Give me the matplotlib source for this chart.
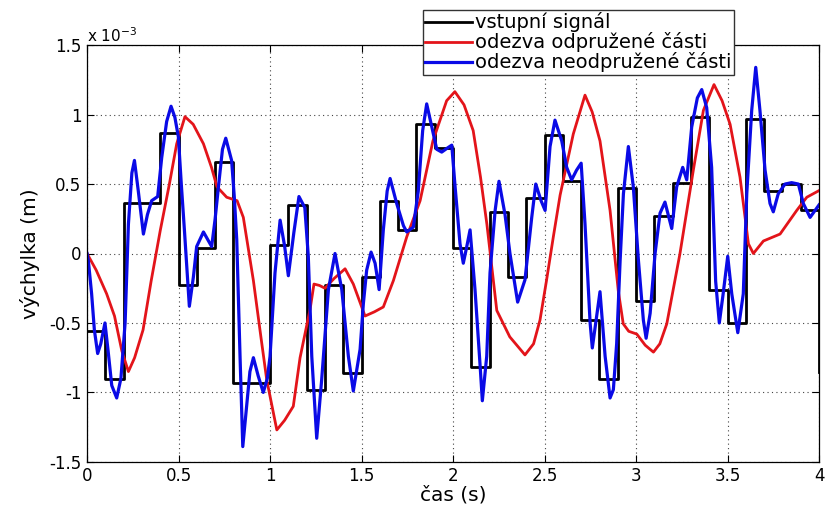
import numpy as np
import matplotlib
matplotlib.use('Agg')
import matplotlib.pyplot as plt

# input signal: one value per 0.1 s step (x 1e-3 m)
step_t = np.round(np.arange(0, 4.01, 0.1), 2)
step_v = [-0.56, -0.90, 0.36, 0.36, 0.87, -0.23, 0.04, 0.66, -0.93, -0.93,
          0.06, 0.35, -0.98, -0.23, -0.86, -0.17, 0.38, 0.17, 0.93, 0.76,
          0.04, -0.82, 0.30, -0.17, 0.40, 0.85, 0.52, -0.48, -0.90, 0.47,
          -0.34, 0.27, 0.51, 0.98, -0.26, -0.50, 0.97, 0.45, 0.50, 0.31,
          -0.85]

# sprung mass response (red)
red_t = [0.000, 0.050, 0.107, 0.150, 0.190, 0.226, 0.260, 0.306, 0.350, 0.400,
         0.450, 0.490, 0.535, 0.580, 0.636, 0.680, 0.710, 0.763, 0.820, 0.854,
         0.909, 0.950, 0.982, 1.037, 1.080, 1.127, 1.164, 1.219, 1.240, 1.270,
         1.300, 1.350, 1.410, 1.455, 1.519, 1.570, 1.619, 1.674, 1.747, 1.820,
         1.890, 1.965, 2.010, 2.060, 2.110, 2.150, 2.185, 2.239, 2.310, 2.393,
         2.440, 2.475, 2.510, 2.548, 2.585, 2.657, 2.721, 2.760, 2.803, 2.858,
         2.903, 2.930, 2.960, 3.004, 3.050, 3.095, 3.130, 3.168, 3.240, 3.313,
         3.368, 3.426, 3.470, 3.514, 3.568, 3.614, 3.641, 3.696, 3.787, 3.878,
         3.933, 3.996]
red_v = [0.00, -0.12, -0.29, -0.45, -0.70, -0.85, -0.75, -0.55, -0.20, 0.165,
         0.50, 0.79, 0.985, 0.93, 0.79, 0.62, 0.48, 0.405, 0.38, 0.26,
         -0.195, -0.60, -0.91, -1.27, -1.20, -1.10, -0.75, -0.40, -0.22, -0.23,
         -0.25, -0.18, -0.11, -0.22, -0.45, -0.42, -0.385, -0.195, 0.12, 0.38,
         0.81, 1.10, 1.165, 1.07, 0.885, 0.55, 0.21, -0.41, -0.60, -0.73,
         -0.65, -0.48, -0.20, 0.12, 0.42, 0.86, 1.14, 1.02, 0.81, 0.31,
         -0.27, -0.506, -0.56, -0.58, -0.66, -0.71, -0.65, -0.506, 0.00, 0.60,
         1.03, 1.216, 1.10, 0.93, 0.55, 0.07, 0.00, 0.09, 0.14, 0.31,
         0.405, 0.45]

# unsprung mass response (blue)
blue_t = [0.000, 0.007, 0.025, 0.040, 0.058, 0.075, 0.098, 0.115, 0.135, 0.162,
          0.185, 0.208, 0.226, 0.245, 0.259, 0.280, 0.308, 0.330, 0.353, 0.386,
          0.408, 0.435, 0.459, 0.480, 0.499, 0.515, 0.532, 0.559, 0.581, 0.599,
          0.636, 0.681, 0.700, 0.718, 0.740, 0.758, 0.790, 0.805, 0.818, 0.836,
          0.851, 0.872, 0.890, 0.909, 0.935, 0.963, 0.985, 1.000, 1.027, 1.055,
          1.080, 1.100, 1.130, 1.158, 1.190, 1.209, 1.228, 1.255, 1.282, 1.319,
          1.355, 1.392, 1.428, 1.455, 1.492, 1.510, 1.528, 1.552, 1.574, 1.596,
          1.619, 1.640, 1.656, 1.692, 1.729, 1.747, 1.783, 1.810, 1.834, 1.856,
          1.884, 1.911, 1.938, 1.970, 1.993, 2.010, 2.038, 2.056, 2.075, 2.093,
          2.120, 2.148, 2.160, 2.184, 2.202, 2.230, 2.251, 2.284, 2.311, 2.353,
          2.393, 2.430, 2.452, 2.481, 2.503, 2.530, 2.557, 2.594, 2.621, 2.648,
          2.675, 2.700, 2.721, 2.749, 2.761, 2.785, 2.803, 2.831, 2.858, 2.876,
          2.894, 2.913, 2.931, 2.958, 2.985, 3.013, 3.040, 3.055, 3.077, 3.104,
          3.131, 3.158, 3.195, 3.222, 3.255, 3.277, 3.304, 3.335, 3.359, 3.386,
          3.413, 3.435, 3.455, 3.475, 3.501, 3.523, 3.556, 3.586, 3.605, 3.632,
          3.654, 3.677, 3.705, 3.732, 3.750, 3.777, 3.814, 3.850, 3.887, 3.914,
          3.951, 3.978, 4.000]
blue_v = [0.00, -0.05, -0.29, -0.55, -0.72, -0.65, -0.50, -0.70, -0.95, -1.04,
          -0.90, -0.50, 0.21, 0.58, 0.67, 0.45, 0.14, 0.28, 0.38, 0.41,
          0.69, 0.95, 1.06, 0.98, 0.84, 0.50, 0.17, -0.38, -0.17, 0.05,
          0.155, 0.05, 0.25, 0.48, 0.75, 0.83, 0.67, 0.40, 0.10, -0.74,
          -1.39, -1.10, -0.85, -0.75, -0.88, -1.00, -0.90, -0.74, -0.14, 0.24,
          0.05, -0.16, 0.15, 0.41, 0.33, -0.02, -0.74, -1.33, -0.91, -0.26,
          0.00, -0.26, -0.74, -0.99, -0.69, -0.36, -0.12, 0.01, -0.07, -0.26,
          0.17, 0.45, 0.54, 0.36, 0.20, 0.155, 0.19, 0.45, 0.885, 1.077,
          0.91, 0.75, 0.73, 0.76, 0.78, 0.50, 0.07, -0.07, 0.05, 0.17,
          -0.26, -0.81, -1.06, -0.74, -0.14, 0.31, 0.52, 0.28, 0.00, -0.35,
          -0.19, 0.26, 0.50, 0.38, 0.31, 0.77, 0.96, 0.81, 0.62, 0.53,
          0.60, 0.65, 0.215, -0.50, -0.68, -0.45, -0.275, -0.74, -1.04, -0.98,
          -0.65, -0.05, 0.43, 0.77, 0.48, -0.05, -0.48, -0.61, -0.43, 0.00,
          0.29, 0.37, 0.18, 0.48, 0.62, 0.53, 0.91, 1.12, 1.18, 1.05,
          0.62, -0.20, -0.50, -0.30, -0.02, -0.29, -0.57, -0.29, 0.43, 1.03,
          1.34, 1.03, 0.60, 0.36, 0.30, 0.43, 0.50, 0.51, 0.50, 0.36,
          0.26, 0.31, 0.35]

x_ticks = [0, 0.5, 1, 1.5, 2, 2.5, 3, 3.5, 4]
x_labels = ['0', '0.5', '1', '1.5', '2', '2.5', '3', '3.5', '4']
y_ticks = [-1.5, -1, -0.5, 0, 0.5, 1, 1.5]
y_labels = ['-1.5', '-1', '-0.5', '0', '0.5', '1', '1.5']

plt.rcParams['font.family'] = 'DejaVu Sans'

fig = plt.figure(figsize=(8.29, 5.07), dpi=100)
ax = fig.add_axes([0.105, 0.089, 0.883, 0.822])

ax.plot(step_t, step_v, drawstyle='steps-post', color='k', lw=2.0,
        label='vstupní signál')
ax.plot(red_t, red_v, color='#e3141a', lw=2.0, label='odezva odpružené části')
ax.plot(blue_t, blue_v, color='#0a0ae6', lw=2.3, label='odezva neodpružené části')

ax.set_xlim(0, 4)
ax.set_ylim(-1.5, 1.5)
ax.set_xticks(x_ticks)
ax.set_xticklabels(x_labels)
ax.set_yticks(y_ticks)
ax.set_yticklabels(y_labels)
ax.tick_params(direction='in', top=True, right=True, length=5, width=0.8,
               labelsize=12, pad=4)
ax.grid(True, linestyle=(0, (1, 3)), color='#444444', lw=0.8)
for s in ax.spines.values():
    s.set_linewidth(0.9)

ax.text(0.0, 1.0, r'x 10$^{-3}$', transform=ax.transAxes, ha='left',
        va='bottom', fontsize=11)
ax.set_xlabel('čas (s)', fontsize=14.5, labelpad=0)
ax.set_ylabel('výchylka (m)', fontsize=14.5, labelpad=7)

leg = ax.legend(loc='upper left', bbox_to_anchor=(423 / 829, 1 - 10 / 507),
                bbox_transform=fig.transFigure, borderaxespad=0,
                fancybox=False, framealpha=1, edgecolor='#333333',
                fontsize=14, handlelength=2.4, handletextpad=0.15,
                labelspacing=0.0, borderpad=0.12)
leg.get_frame().set_linewidth(1.0)

fig.savefig('out.png', dpi=100)
